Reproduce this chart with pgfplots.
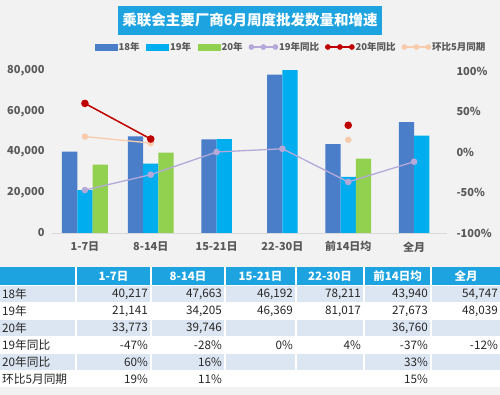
\documentclass[border=0pt]{standalone}
\usepackage{fontspec}
\setmainfont{Noto Sans CJK SC}
\usepackage{pgfplots}
\pgfplotsset{compat=1.18}
\definecolor{bg}{HTML}{F2F2F2}
\definecolor{c18}{HTML}{4A7EC9}
\definecolor{c19}{HTML}{00AEEF}
\definecolor{c20}{HTML}{92D050}
\definecolor{l19}{HTML}{B4A9D8}
\definecolor{l20}{HTML}{C00000}
\definecolor{lhb}{HTML}{F8CBAD}
\definecolor{hdr}{HTML}{1CA3E0}
\definecolor{stripe}{HTML}{DCE6F2}
\definecolor{txt}{HTML}{595959}
\definecolor{ttxt}{HTML}{262626}
\definecolor{axl}{HTML}{D9D9D9}
\pgfplotsset{
  barlegend/.style={legend image code/.code={\fill[#1] (0pt,-3pt) rectangle (22pt,3pt);}},
  linelegend/.style={legend image code/.code={\draw[##1] plot coordinates {(0pt,0pt) (12pt,0pt) (24pt,0pt)};}},
}
\begin{document}
\begin{tikzpicture}[x=1pt,y=1pt]
\fill[bg] (0,0) rectangle (500,395);
% title banner
\node[fill=hdr, minimum width=264pt, minimum height=29pt, inner sep=0pt, text=white,
  font=\fontsize{14.5}{16}\selectfont\bfseries] at (250,374.5) {乘联会主要厂商6月周度批发数量和增速};
% bars
\begin{axis}[
  at={(52pt,162pt)}, anchor=south west,
  scale only axis, width=395pt, height=162pt,
  xmin=-0.5, xmax=5.5, ymin=0, ymax=80000,
  axis x line*=bottom, axis y line*=left,
  x axis line style={draw=axl, line width=0.8pt, -},
  y axis line style={draw=none},
  major tick length=0pt,
  xtick={0,1,2,3,4,5},
  xticklabels={1-7日,8-14日,15-21日,22-30日,前14日均,全月},
  ytick={0,20000,40000,60000,80000},
  scaled y ticks=false,
  /pgf/number format/assume math mode=true,
  yticklabel style={/pgf/number format/fixed, /pgf/number format/1000 sep={,},
    font=\fontsize{11}{13}\selectfont\bfseries, text=txt, xshift=-4pt},
  xticklabel style={font=\fontsize{11}{13}\selectfont\bfseries, text=txt, yshift=-5pt},
]
\addplot[ybar, bar width=15.3pt, bar shift=-15.3pt, fill=c18, draw=none] coordinates {(0,40217) (1,47663) (4,43940)};
\addplot[ybar, bar width=15.3pt, bar shift=-7.65pt, fill=c18, draw=none] coordinates {(2,46192) (3,78211) (5,54747)};
\addplot[ybar, bar width=15.3pt, bar shift=0pt, fill=c19, draw=none] coordinates {(0,21141) (1,34205) (4,27673)};
\addplot[ybar, bar width=15.3pt, bar shift=7.65pt, fill=c19, draw=none] coordinates {(2,46369) (3,81017) (5,48039)};
\addplot[ybar, bar width=15.3pt, bar shift=15.3pt, fill=c20, draw=none] coordinates {(0,33773) (1,39746) (4,36760)};
\end{axis}
% lines
\begin{axis}[
  at={(52pt,162pt)}, anchor=south west,
  scale only axis, width=395pt, height=162pt,
  xmin=-0.5, xmax=5.5, ymin=-100, ymax=100,
  hide x axis,
  axis y line*=right,
  y axis line style={draw=none},
  major tick length=0pt,
  ytick={-100,-50,0,50,100},
  /pgf/number format/assume math mode=true,
  yticklabel={\pgfmathprintnumber{\tick}\%},
  yticklabel style={font=\fontsize{11}{13}\selectfont\bfseries, text=txt, xshift=6pt},
  unbounded coords=jump,
  clip=false,
  legend columns=-1,
  legend style={at={(axis description cs:1.1013,1.148)}, anchor=east, draw=none, fill=none,
    inner sep=0pt, font=\fontsize{9.5}{11}\selectfont\bfseries, text=txt,
    /tikz/every even column/.append style={column sep=5pt},
    nodes={inner xsep=1.5pt, inner ysep=0pt}},
]
\addlegendimage{barlegend=c18}
\addlegendentry{18年}
\addlegendimage{barlegend=c19}
\addlegendentry{19年}
\addlegendimage{barlegend=c20}
\addlegendentry{20年}
\addlegendimage{l19, line width=1.2pt, mark=*, mark size=2.2pt, linelegend}
\addlegendentry{19年同比}
\addlegendimage{l20, line width=1.2pt, mark=*, mark size=2.2pt, linelegend}
\addlegendentry{20年同比}
\addlegendimage{lhb, line width=1.2pt, mark=*, mark size=2.2pt, linelegend}
\addlegendentry{环比5月同期}
\addplot[forget plot, l19, line width=1.3pt, mark=*, mark size=2.6pt] coordinates {(0,-47) (1,-28) (2,0) (3,4) (4,-37) (5,-12)};
\addplot[forget plot, lhb, line width=1.3pt, mark=*, mark size=2.6pt] coordinates {(0,19) (1,11) (2,nan) (4,15)};
\addplot[forget plot, l20, line width=1.5pt, mark=*, mark size=3pt] coordinates {(0,60) (1,16) (2,nan) (4,33)};
\end{axis}
% table
\fill[white] (0,8) rectangle (500,128);
\foreach \xa/\xb in {0/75,77/150,152/224,226/295,297/363,365/430,432/500}{
  \fill[hdr] (\xa,110) rectangle (\xb,128);
  \fill[stripe] (\xa,93) rectangle (\xb,109);
  \fill[stripe] (\xa,59) rectangle (\xb,75);
  \fill[stripe] (\xa,25) rectangle (\xb,41);
}
\foreach \c/\t in {113.5/1-7日,188/8-14日,260.5/15-21日,330/22-30日,397.5/前14日均,466/全月}{
  \node[text=white, font=\fontsize{11.5}{13}\selectfont\bfseries, inner sep=0pt] at (\c,119) {\t};
}
\foreach \yc/\lab in {101/18年,84/19年,67/20年,50/19年同比,33/20年同比,16/环比5月同期}{
  \node[text=ttxt, font=\fontsize{11.7}{13}\selectfont, anchor=west, inner sep=0pt] at (2,\yc) {\lab};
}
\def\rowvals#1#2#3#4#5#6#7{%
  \foreach \xr/\v in {148/#2,222/#3,293/#4,361/#5,428/#6,498/#7}{
    \node[text=ttxt, font=\fontsize{11.7}{13}\selectfont, anchor=east, inner sep=0pt] at (\xr,#1) {\v};
  }}
\rowvals{101}{40{,}217}{47{,}663}{46{,}192}{78{,}211}{43{,}940}{54{,}747}
\rowvals{84}{21{,}141}{34{,}205}{46{,}369}{81{,}017}{27{,}673}{48{,}039}
\rowvals{67}{33{,}773}{39{,}746}{}{}{36{,}760}{}
\rowvals{50}{-47\%}{-28\%}{0\%}{4\%}{-37\%}{-12\%}
\rowvals{33}{60\%}{16\%}{}{}{33\%}{}
\rowvals{16}{19\%}{11\%}{}{}{15\%}{}
\end{tikzpicture}
\end{document}
